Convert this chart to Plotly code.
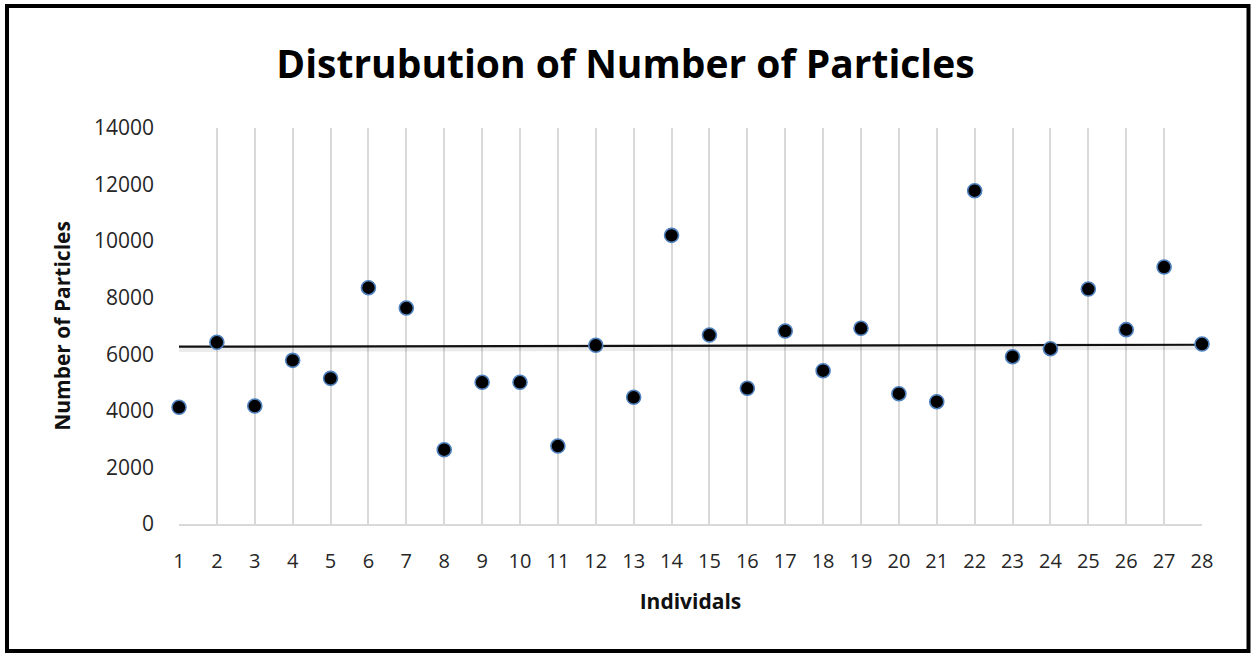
import plotly.graph_objects as go

individuals = list(range(1, 29))
particles = [4125, 6423, 4171, 5786, 5150, 8354, 7636, 2627, 5009, 5009,
             2757, 6317, 4479, 10205, 6681, 4797, 6823, 5420, 6918, 4606,
             4323, 11782, 5914, 6197, 8307, 6871, 9085, 6363]
trend_x = [1, 28]
trend_y = [6268, 6338]
y_ticks = [0, 2000, 4000, 6000, 8000, 10000, 12000, 14000]

W, H = 1251, 654
L, R, T, B = 179, 49, 128, 130
pw, ph = W - L - R, H - T - B

def px_x(px):
    return (px - L) / pw

def px_y(py):
    return (H - B - py) / ph

fig = go.Figure()
# soft shadow under the trend line
fig.add_trace(go.Scatter(
    x=trend_x, y=[v - 80 for v in trend_y], mode="lines",
    line=dict(color="rgba(0,0,0,0.08)", width=6), hoverinfo="skip", showlegend=False))
fig.add_trace(go.Scatter(
    x=trend_x, y=trend_y, mode="lines",
    line=dict(color="#111111", width=2.2), showlegend=False))
fig.add_trace(go.Scatter(
    x=individuals, y=particles, mode="markers",
    marker=dict(size=14, color="black", line=dict(color="#4f81bd", width=1.6)),
    showlegend=False, cliponaxis=False))

font_family = "'Open Sans', Lato, sans-serif"
fig.update_layout(
    width=W, height=H,
    margin=dict(l=L, r=R, t=T, b=B),
    paper_bgcolor="white", plot_bgcolor="white",
    title=dict(text="<b>Distrubution of Number of Particles</b>",
               x=0.5, xref="container", xanchor="center",
               y=1 - 64 / H, yref="container", yanchor="middle",
               font=dict(family=font_family, size=39, color="black")),
    xaxis=dict(range=[1, 28], tickmode="array", tickvals=individuals,
               showgrid=True, gridcolor="#d9d9d9", gridwidth=1.5,
               showline=True, linecolor="#d9d9d9", linewidth=1.5,
               zeroline=False, ticks="", ticklabelstandoff=18,
               tickfont=dict(family=font_family, size=20, color="#262626"),
               title=dict(text="<b>Individals</b>", standoff=22,
                          font=dict(family=font_family, size=21, color="#111111"))),
    yaxis=dict(range=[0, 14000], tickmode="array", tickvals=y_ticks,
               tickformat="d",
               showgrid=False, showline=False, zeroline=False, ticks="",
               ticklabelstandoff=24,
               tickfont=dict(family=font_family, size=21, color="#262626"),
               title=dict(text="<b>Number of Particles</b>", standoff=17,
                          font=dict(family=font_family, size=21, color="#111111"))),
    shapes=[dict(type="rect", xref="paper", yref="paper",
                 x0=px_x(7), x1=px_x(1248.5), y0=px_y(651), y1=px_y(6),
                 line=dict(color="black", width=4), fillcolor="rgba(0,0,0,0)")],
)

fig.write_html("out.html", config={"displayModeBar": False},
               post_script="document.body.style.margin='0';document.body.style.padding='0';")
